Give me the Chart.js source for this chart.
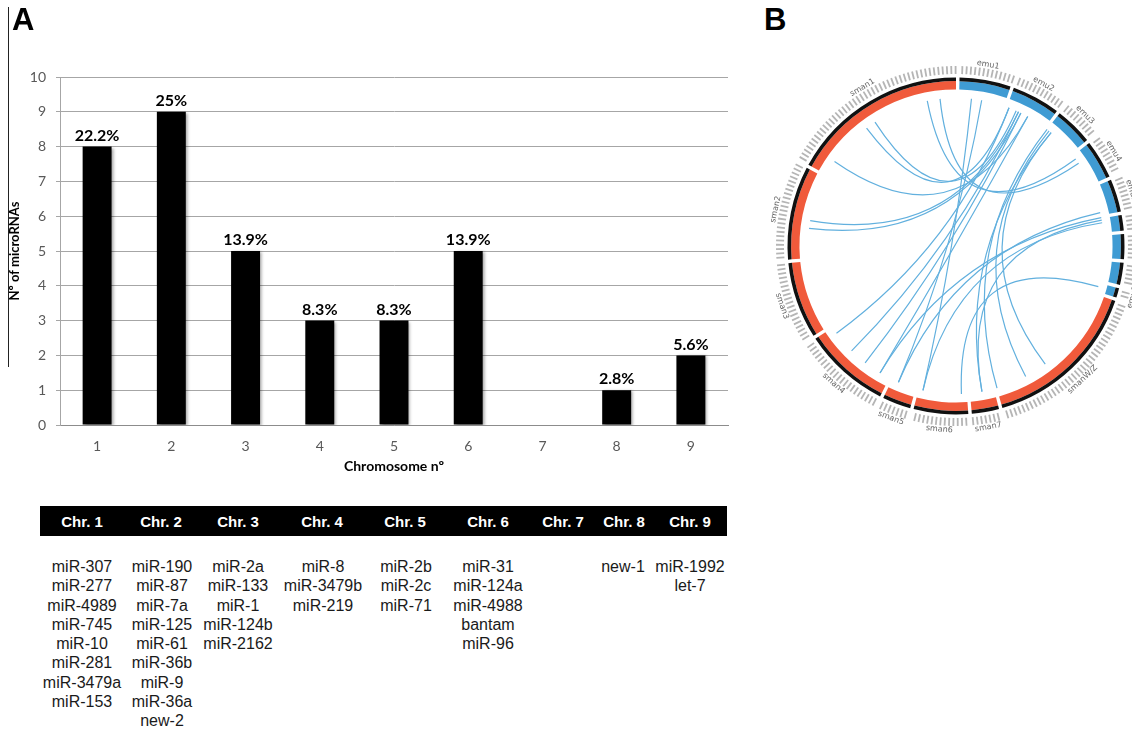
<!DOCTYPE html>
<html>
<head>
<meta charset="utf-8">
<script src="https://cdn.jsdelivr.net/npm/chart.js@4"></script>
<style>
body { margin:0; width:1132px; height:730px; background:#fff; position:relative; overflow:hidden; font-family:"Liberation Sans", Arial, sans-serif; }
.letter { position:absolute; font-weight:bold; font-size:31px; line-height:1; color:#000; }
#barChart { position:absolute; left:0; top:0; }
#circosChart { position:absolute; left:756px; top:46px; }
.vline { position:absolute; left:8px; top:7px; width:1px; height:360px; background:#222; }
#tableHead { position:absolute; left:40px; top:506px; width:687px; height:30px; background:#000; }
.hcell { position:absolute; top:513px; width:100px; margin-left:-50px; text-align:center; color:#fff; font-weight:bold; font-size:15px; line-height:17px; }
.col { position:absolute; top:557px; width:120px; margin-left:-60px; text-align:center; color:#1a1a1a; font-size:16px; line-height:19.3px; }
</style>
</head>
<body>
<div class="vline"></div>
<canvas id="barChart" width="740" height="485"></canvas>
<canvas id="circosChart" width="376" height="400"></canvas>
<div class="letter" style="left:12px; top:4px;">A</div>
<div class="letter" style="left:764px; top:4px;">B</div>
<div id="tableHead"></div>
<div id="table"></div>

<script>
// panel A - microRNAs per chromosome
var chromosomes = ["1", "2", "3", "4", "5", "6", "7", "8", "9"];
var mirnaCounts = [8, 9, 5, 3, 3, 5, 0, 1, 2];
var percentLabels = ["22.2%", "25%", "13.9%", "8.3%", "8.3%", "13.9%", "", "2.8%", "5.6%"];

// table under the chart
var tableHeaders = ["Chr. 1", "Chr. 2", "Chr. 3", "Chr. 4", "Chr. 5", "Chr. 6", "Chr. 7", "Chr. 8", "Chr. 9"];
var chr1 = ["miR-307", "miR-277", "miR-4989", "miR-745", "miR-10", "miR-281", "miR-3479a", "miR-153"];
var chr2 = ["miR-190", "miR-87", "miR-7a", "miR-125", "miR-61", "miR-36b", "miR-9", "miR-36a", "new-2"];
var chr3 = ["miR-2a", "miR-133", "miR-1", "miR-124b", "miR-2162"];
var chr4 = ["miR-8", "miR-3479b", "miR-219"];
var chr5 = ["miR-2b", "miR-2c", "miR-71"];
var chr6 = ["miR-31", "miR-124a", "miR-4988", "bantam", "miR-96"];
var chr7 = [];
var chr8 = ["new-1"];
var chr9 = ["miR-1992", "let-7"];

// panel B - circos plot (segment sizes in degrees, links as positions in degrees from top)
var circosNames = ["emu1", "emu2", "emu3", "emu4", "emu5", "emu6", "emu7", "emu8", "emu9",
    "smanW/Z", "sman7", "sman6", "sman5", "sman4", "sman3", "sman2", "sman1"];
var circosSizes = [17.7, 16.7, 13.1, 13.4, 11.3, 5.4, 8.6, 7.6, 3.3,
    55, 9.4, 18.8, 9.8, 29.8, 26.4, 32.3, 61.2];
var circosGroups = ["emu", "emu", "emu", "emu", "emu", "emu", "emu", "emu", "emu",
    "sman", "sman", "sman", "sman", "sman", "sman", "sman", "sman"];
var linkFrom = [349, 354, 323, 327, 305, 280, 277, 6, 10, 21, 25, 26, 29, 39, 40, 38, 40, 77, 79, 81, 80, 106];
var linkTo = [54, 56, 21, 24, 29, 25, 26, 193, 203, 234, 225, 218, 211, 152, 143, 164, 170, 203, 211, 193, 170, 178];

// ---- table (html) ----
var headerX = [82, 161, 238, 322, 405, 488, 563, 624, 690];
var colX = [82, 162, 238, 323, 406, 488, 563, 623, 690];
var lists = [chr1, chr2, chr3, chr4, chr5, chr6, chr7, chr8, chr9];
var tbl = document.getElementById("table");
for (i = 0; i < tableHeaders.length; i++) {
    var h = document.createElement("div");
    h.className = "hcell";
    h.style.left = headerX[i] + "px";
    h.textContent = tableHeaders[i];
    tbl.appendChild(h);
    var c = document.createElement("div");
    c.className = "col";
    c.style.left = colX[i] + "px";
    c.innerHTML = lists[i].join("<br>");
    tbl.appendChild(c);
}

// ---- bar chart ----
Chart.defaults.font.family = "Lato";

const barShadow = {
    id: "barShadow",
    beforeDatasetsDraw(chart) {
        const ctx = chart.ctx;
        ctx.save();
        ctx.shadowColor = "rgba(0,0,0,0.35)";
        ctx.shadowBlur = 3;
        ctx.shadowOffsetX = 2;
        ctx.shadowOffsetY = 1;
    },
    afterDatasetsDraw(chart) {
        chart.ctx.restore();
    }
};

const pctLabels = {
    id: "pctLabels",
    afterDatasetsDraw(chart) {
        const ctx = chart.ctx;
        const meta = chart.getDatasetMeta(0);
        ctx.save();
        ctx.font = "bold 16px Lato";
        ctx.fillStyle = "#000";
        ctx.textAlign = "center";
        ctx.textBaseline = "bottom";
        meta.data.forEach(function (bar, i) {
            if (percentLabels[i]) ctx.fillText(percentLabels[i], bar.x, bar.y - 3);
        });
        ctx.restore();
    }
};

new Chart(document.getElementById("barChart"), {
    type: "bar",
    data: {
        labels: chromosomes,
        datasets: [{
            data: mirnaCounts,
            backgroundColor: "#000",
            barPercentage: 1,
            categoryPercentage: 0.39
        }]
    },
    options: {
        responsive: false,
        animation: false,
        layout: { padding: { top: 77, right: 12, left: 0, bottom: 0 } },
        plugins: { legend: { display: false }, tooltip: { enabled: false } },
        scales: {
            x: {
                grid: { display: false, drawTicks: false },
                border: { display: true, color: "#8c8c8c" },
                ticks: { color: "#595959", font: { size: 14 }, padding: 13 },
                title: { display: true, text: "Chromosome nº", color: "#000", font: { size: 14, weight: "bold" }, padding: { top: 0, bottom: 10 } },
                afterFit(s) { s.height = 60; }
            },
            y: {
                min: 0,
                max: 10,
                ticks: { stepSize: 1, color: "#595959", font: { size: 14 }, padding: 10 },
                grid: { color: "#a6a6a6", tickLength: 4 },
                border: { display: true, color: "#a6a6a6" },
                title: { display: true, text: "Nº of microRNAs", color: "#000", font: { size: 13, weight: "bold" }, padding: { top: 7, bottom: 0 } },
                afterFit(s) { s.width = 60; }
            }
        }
    },
    plugins: [barShadow, pctLabels]
});

// ---- circos chart ----
var GAP = 1.2;
var groupColor = { emu: "#3f9bd3", sman: "#f05a3b" };
var ringData = [], ringColors = [], ringBlack = [];
circosSizes.forEach(function (s, i) {
    ringData.push(GAP, s);
    ringColors.push("rgba(0,0,0,0)", groupColor[circosGroups[i]]);
    ringBlack.push("rgba(0,0,0,0)", "#111");
});

const circosDecor = {
    id: "circosDecor",
    afterDatasetsDraw(chart) {
        const ctx = chart.ctx;
        const meta = chart.getDatasetMeta(1);
        const cx = meta.data[0].x, cy = meta.data[0].y;
        const total = ringData.reduce(function (a, b) { return a + b; }, 0);
        const step = 1.4 * Math.PI / 180;
        ctx.save();
        // ticks
        ctx.strokeStyle = "#b5b5b5";
        ctx.lineWidth = 1.8;
        circosSizes.forEach(function (s, i) {
            const arc = meta.data[2 * i + 1];
            for (let a = arc.startAngle + step * 0.6; a < arc.endAngle; a += step) {
                ctx.beginPath();
                ctx.moveTo(cx + 172 * Math.cos(a), cy + 172 * Math.sin(a));
                ctx.lineTo(cx + 180 * Math.cos(a), cy + 180 * Math.sin(a));
                ctx.stroke();
            }
        });
        // names
        ctx.fillStyle = "#666";
        ctx.font = "8px 'DejaVu Sans'";
        ctx.textAlign = "center";
        ctx.textBaseline = "middle";
        circosSizes.forEach(function (s, i) {
            const arc = meta.data[2 * i + 1];
            const mid = (arc.startAngle + arc.endAngle) / 2;
            let deg = mid * 180 / Math.PI + 90;
            deg = ((deg % 360) + 360) % 360;
            const rot = (deg > 90 && deg < 270) ? deg - 180 : deg;
            ctx.save();
            ctx.translate(cx + 184 * Math.cos(mid), cy + 184 * Math.sin(mid));
            ctx.rotate(rot * Math.PI / 180);
            ctx.fillText(circosNames[i], 0, 0);
            ctx.restore();
        });
        // links
        ctx.strokeStyle = "#62b0de";
        ctx.lineWidth = 1.2;
        const r = 148;
        for (i = 0; i < linkFrom.length; i++) {
            const a1 = (linkFrom[i] * 360 / total - 90) * Math.PI / 180;
            const a2 = (linkTo[i] * 360 / total - 90) * Math.PI / 180;
            ctx.beginPath();
            ctx.moveTo(cx + r * Math.cos(a1), cy + r * Math.sin(a1));
            ctx.quadraticCurveTo(cx, cy, cx + r * Math.cos(a2), cy + r * Math.sin(a2));
            ctx.stroke();
        }
        ctx.restore();
    }
};

new Chart(document.getElementById("circosChart"), {
    type: "doughnut",
    data: {
        labels: ringData.map(function (d, i) { return i % 2 ? circosNames[(i - 1) / 2] : ""; }),
        datasets: [
            { data: ringData, backgroundColor: ringBlack, borderWidth: 0, weight: 1.5 },
            { data: ringData, backgroundColor: ringColors, borderWidth: 0, weight: 3.5 }
        ]
    },
    options: {
        responsive: false,
        animation: false,
        radius: 168.5,
        cutout: 163.5,
        layout: { padding: { left: 24 } },
        plugins: { legend: { display: false }, tooltip: { enabled: false } }
    },
    plugins: [circosDecor]
});
</script>
</body>
</html>
